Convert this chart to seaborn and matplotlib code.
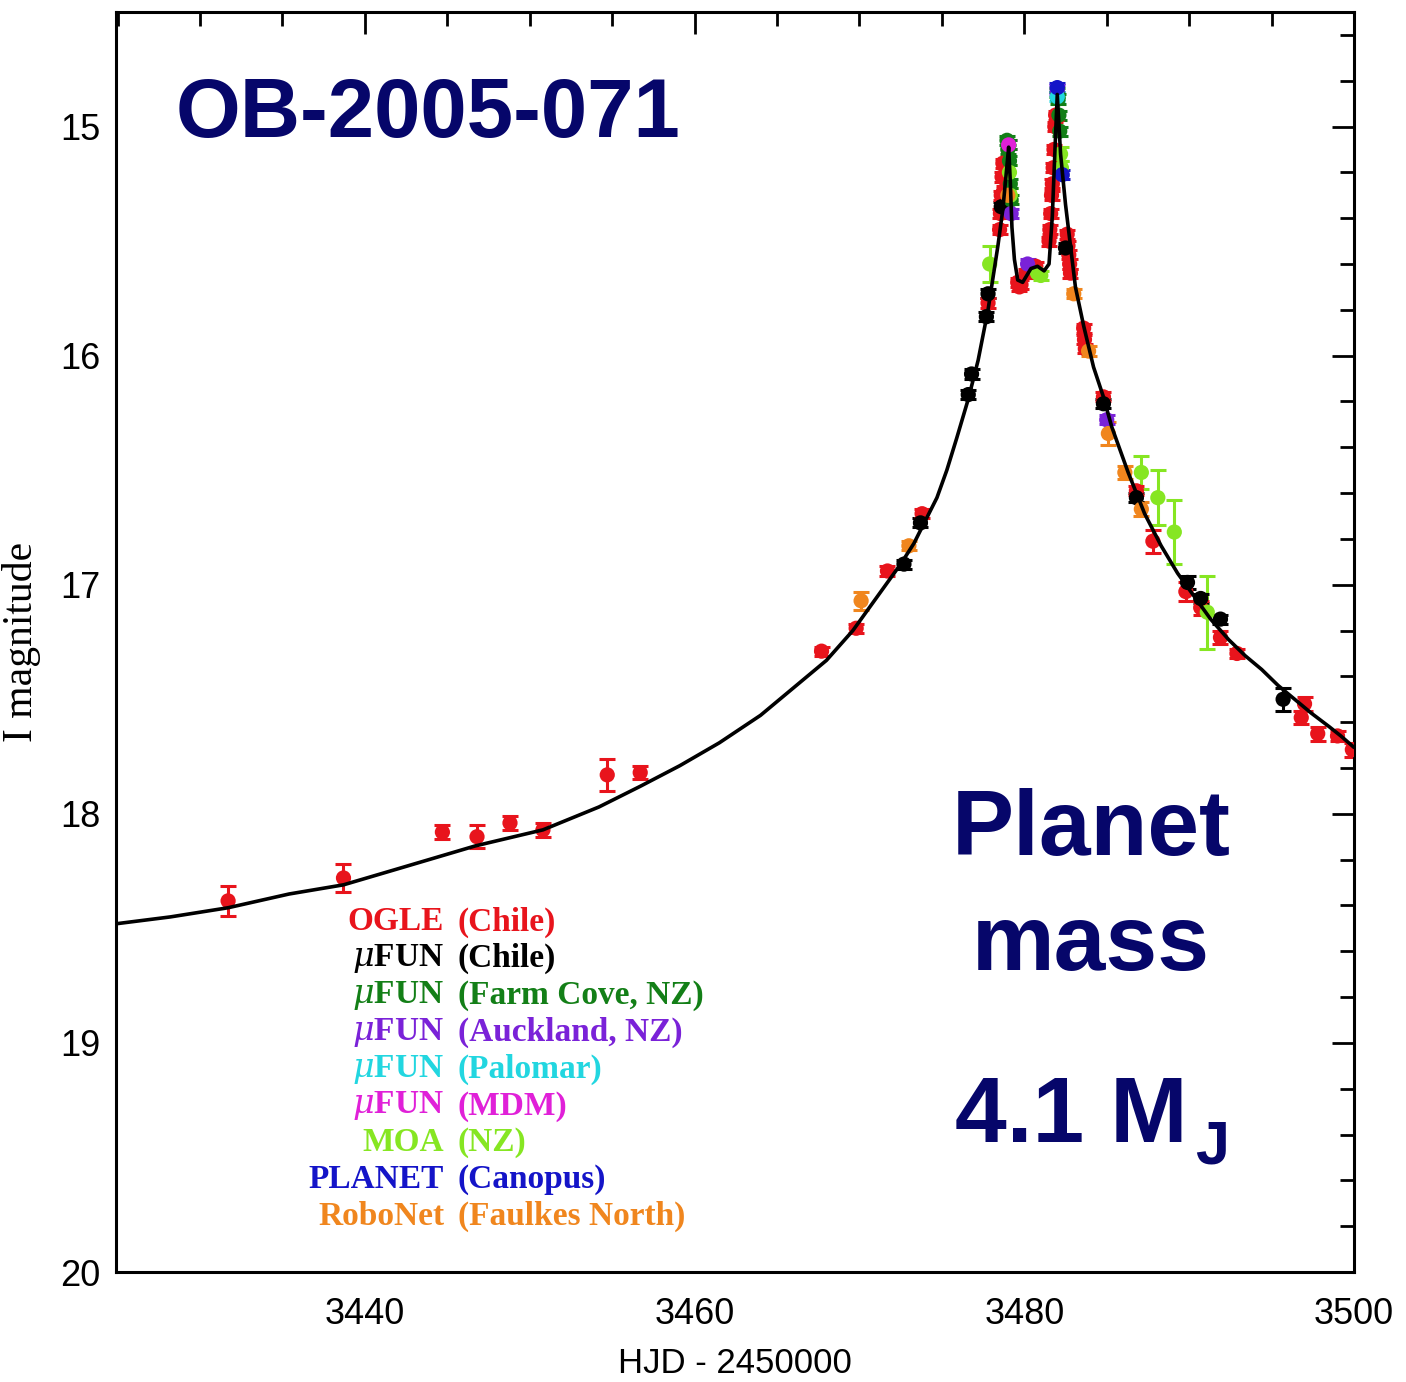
import numpy as np
import pandas as pd
import matplotlib
matplotlib.use("Agg")
import matplotlib.pyplot as plt
from matplotlib.ticker import MultipleLocator
import seaborn as sns

# ---------------- data ----------------
model_t = [3424.9, 3428.2, 3431.7, 3435.4, 3438.7, 3442.0, 3446.7, 3450.8, 3454.2, 3456.7,
           3459.1, 3461.5, 3464.0, 3466.0, 3468.0, 3469.6, 3471.3, 3472.5, 3473.3, 3474.7,
           3475.3, 3475.9, 3476.6, 3477.2, 3477.8, 3478.1, 3478.4, 3478.7, 3479.0, 3479.05,
           3479.15, 3479.25, 3479.4, 3479.6, 3479.9, 3480.4, 3480.8, 3481.2, 3481.5, 3481.7,
           3481.9, 3482.0, 3482.2, 3482.5, 3482.8, 3483.1, 3483.6, 3484.2, 3484.8, 3485.3,
           3486.3, 3487.3, 3488.3, 3489.3, 3490.3, 3491.3, 3492.4, 3493.4, 3494.4, 3495.4,
           3496.4, 3497.4, 3498.5, 3499.2, 3500.0]
model_mag = [18.48, 18.45, 18.41, 18.35, 18.31, 18.24, 18.14, 18.07, 17.97, 17.88,
             17.79, 17.69, 17.57, 17.45, 17.33, 17.20, 17.03, 16.91, 16.82, 16.62,
             16.50, 16.36, 16.19, 16.02, 15.80, 15.66, 15.52, 15.36, 15.13, 15.09,
             15.24, 15.44, 15.58, 15.67, 15.68, 15.62, 15.61, 15.63, 15.60, 15.39,
             15.03, 14.86, 15.12, 15.34, 15.52, 15.70, 15.87, 16.05, 16.18, 16.31,
             16.51, 16.69, 16.83, 16.95, 17.05, 17.15, 17.24, 17.31, 17.37, 17.44,
             17.50, 17.56, 17.62, 17.66, 17.71]

ogle_t = [3431.7, 3438.7, 3444.7, 3446.8, 3448.8, 3450.8, 3454.7, 3456.7, 3467.7,
          3469.8, 3471.7, 3473.8, 3477.8, 3478.5, 3478.55, 3478.6, 3478.65, 3478.7,
          3478.75, 3478.8, 3479.6, 3479.7, 3479.8, 3480.1, 3480.4, 3480.7, 3481.5,
          3481.55, 3481.6, 3481.65, 3481.7, 3481.75, 3481.8, 3481.85, 3481.9, 3482.6,
          3482.65, 3482.7, 3482.75, 3482.8, 3483.6, 3483.65, 3483.7, 3484.8, 3486.8,
          3487.8, 3489.8, 3490.7, 3491.9, 3492.9, 3496.8, 3497.0, 3497.8, 3499.0, 3499.9]
ogle_mag = [18.38, 18.28, 18.08, 18.10, 18.04, 18.07, 17.83, 17.82, 17.29,
            17.19, 16.94, 16.69, 15.77, 15.45, 15.38, 15.30, 15.22, 15.16,
            15.28, 15.35, 15.68, 15.70, 15.69, 15.64, 15.61, 15.61, 15.50,
            15.45, 15.38, 15.30, 15.25, 15.18, 15.10, 15.00, 14.95, 15.47,
            15.52, 15.56, 15.60, 15.64, 15.88, 15.93, 15.97, 16.18, 16.59,
            16.81, 17.03, 17.10, 17.23, 17.30, 17.58, 17.52, 17.65, 17.66, 17.72]
ogle_err = [0.065, 0.06, 0.03, 0.05, 0.03, 0.03, 0.07, 0.03, 0.02,
            0.02, 0.02, 0.02, 0.02, 0.02, 0.02, 0.02, 0.02, 0.02,
            0.02, 0.02, 0.02, 0.02, 0.02, 0.02, 0.02, 0.02, 0.02,
            0.02, 0.02, 0.02, 0.02, 0.02, 0.02, 0.02, 0.02, 0.02,
            0.02, 0.02, 0.02, 0.02, 0.02, 0.02, 0.02, 0.02, 0.02,
            0.05, 0.04, 0.03, 0.03, 0.02, 0.03, 0.03, 0.03, 0.02, 0.03]

fun_chile_t = [3472.7, 3473.7, 3476.6, 3476.8, 3477.7, 3477.8, 3478.6, 3482.5, 3484.8,
               3486.8, 3489.9, 3490.7, 3491.9, 3495.7]
fun_chile_mag = [16.91, 16.73, 16.17, 16.08, 15.83, 15.73, 15.35, 15.53, 16.21,
                 16.62, 16.99, 17.06, 17.15, 17.50]
fun_chile_err = [0.02, 0.02, 0.02, 0.02, 0.02, 0.02, 0.02, 0.02, 0.02,
                 0.02, 0.03, 0.02, 0.02, 0.05]

farm_t = [3478.95, 3479.0, 3479.05, 3479.1, 3479.15, 3479.2, 3482.0, 3482.05, 3482.1, 3482.15]
farm_mag = [15.06, 15.10, 15.08, 15.15, 15.25, 15.32, 14.85, 14.88, 14.95, 15.02]
farm_err = [0.02] * 10

auck_t = [3479.2, 3480.2, 3485.0, 3482.0]
auck_mag = [15.38, 15.60, 16.28, 14.84]
auck_err = [0.02, 0.02, 0.02, 0.02]

palomar_t = [3482.0]
palomar_mag = [14.87]
palomar_err = [0.02]

mdm_t = [3479.05]
mdm_mag = [15.08]
mdm_err = [0.02]

moa_t = [3477.9, 3479.1, 3479.15, 3480.8, 3481.0, 3482.2, 3482.25, 3487.1, 3488.1, 3489.1, 3491.1]
moa_mag = [15.60, 15.20, 15.30, 15.64, 15.65, 15.12, 15.18, 16.51, 16.62, 16.77, 17.12]
moa_err = [0.08, 0.03, 0.03, 0.02, 0.02, 0.03, 0.03, 0.07, 0.12, 0.14, 0.16]

planet_t = [3482.3, 3482.0]
planet_mag = [15.21, 14.83]
planet_err = [0.02, 0.02]

robo_t = [3470.1, 3473.0, 3479.0, 3483.0, 3483.9, 3485.1, 3486.1, 3487.1]
robo_mag = [17.07, 16.83, 15.30, 15.73, 15.98, 16.34, 16.51, 16.67]
robo_err = [0.04, 0.02, 0.02, 0.02, 0.02, 0.05, 0.03, 0.03]

labels_left = ["OGLE", r"$\mu$FUN", r"$\mu$FUN", r"$\mu$FUN", r"$\mu$FUN",
               r"$\mu$FUN", "MOA", "PLANET", "RoboNet"]
labels_right = ["(Chile)", "(Chile)", "(Farm Cove, NZ)", "(Auckland, NZ)", "(Palomar)",
                "(MDM)", "(NZ)", "(Canopus)", "(Faulkes North)"]
colors = ["#e8141c", "#000000", "#137f17", "#7a22d8", "#22d6e0",
          "#e020d8", "#86e622", "#1414c8", "#f0861e"]

x_ticks = [3440, 3460, 3480, 3500]
y_ticks = [15, 16, 17, 18, 19, 20]

# ---------------- build table ----------------
sets = [(ogle_t, ogle_mag, ogle_err), (fun_chile_t, fun_chile_mag, fun_chile_err),
        (farm_t, farm_mag, farm_err), (auck_t, auck_mag, auck_err),
        (palomar_t, palomar_mag, palomar_err), (mdm_t, mdm_mag, mdm_err),
        (moa_t, moa_mag, moa_err), (planet_t, planet_mag, planet_err),
        (robo_t, robo_mag, robo_err)]
names = [l.replace(r"$\mu$", "mu") + " " + r for l, r in zip(labels_left, labels_right)]
rows = []
for name, (t, m, e) in zip(names, sets):
    for a, b, c in zip(t, m, e):
        rows.append((name, a, b, c))
df = pd.DataFrame(rows, columns=["obs", "hjd", "mag", "err"])
model = pd.DataFrame({"hjd": model_t, "mag": model_mag})

# ---------------- plot ----------------
sns.set_style("white")
plt.rcParams["font.family"] = ["Liberation Sans", "DejaVu Sans"]
plt.rcParams["mathtext.fontset"] = "dejavuserif"
plt.rcParams["text.color"] = "black"
plt.rcParams["axes.labelcolor"] = "black"
plt.rcParams["xtick.color"] = "black"
plt.rcParams["ytick.color"] = "black"

fig = plt.figure(figsize=(14.06, 13.82), dpi=100)
ax = fig.add_axes([116 / 1406, 1 - 1272 / 1382, (1354 - 116) / 1406, (1272 - 12) / 1382])

palette = dict(zip(names, colors))
order = names[::-1]
order = [n for n in order if n != names[0]] + [names[0]]
for n in order:
    sub = df[df.obs == n]
    ax.errorbar(sub.hjd, sub.mag, yerr=sub.err, fmt="none", ecolor=palette[n],
                elinewidth=2.2, capsize=6, capthick=2.2, zorder=2)
sns.scatterplot(data=df, x="hjd", y="mag", hue="obs", hue_order=order, palette=palette,
                s=120, edgecolor="none", legend=False, ax=ax, zorder=3)
sns.lineplot(data=model, x="hjd", y="mag", sort=False, color="black", lw=2.6,
             ax=ax, zorder=4)

ax.set_xlim(3424.9, 3500)
ax.set_ylim(20, 14.5)
ax.xaxis.set_major_locator(MultipleLocator(20))
ax.xaxis.set_minor_locator(MultipleLocator(5))
ax.yaxis.set_major_locator(MultipleLocator(1))
ax.yaxis.set_minor_locator(MultipleLocator(0.2))
ax.set_xticks(x_ticks)
ax.set_yticks(y_ticks)
ax.set_xticklabels([str(v) for v in x_ticks])
ax.set_yticklabels([str(v) for v in y_ticks])
ax.tick_params(axis="both", which="both", direction="in", top=True, right=True,
               width=2, colors="black", labelsize=26)
ax.tick_params(which="major", length=16)
ax.tick_params(which="minor", length=10)
ax.tick_params(axis="x", which="major", pad=18)
ax.tick_params(axis="y", which="major", pad=11)
for s in ax.spines.values():
    s.set_linewidth(2.2)
    s.set_color("black")

ax.set_xlabel("HJD - 2450000", fontsize=25)
ax.xaxis.set_label_coords(0.5, -(1347 - 1272) / 1260)
ax.set_ylabel("I magnitude", fontsize=30, family=["Liberation Serif", "DejaVu Serif"])
ax.yaxis.set_label_coords((41 - 116) / 1238, 0.5)

# legend text
y0 = (1272 - 922) / 1260
dy = 36.8 / 1260
for i, (l, r, c) in enumerate(zip(labels_left, labels_right, colors)):
    yy = y0 - i * dy
    ax.text(0.265, yy, l, transform=ax.transAxes, ha="right", va="center",
            fontsize=24, color=c, family=["Liberation Serif", "DejaVu Serif"],
            weight="bold")
    ax.text(0.276, yy, r, transform=ax.transAxes, ha="left", va="center",
            fontsize=24, color=c, family=["Liberation Serif", "DejaVu Serif"],
            weight="bold")

navy = "#06066a"
bold = dict(family=["Liberation Sans", "DejaVu Sans"], weight="bold", color=navy)
ax.text((176 - 116) / 1238, (1272 - 137) / 1260, "OB-2005-071", transform=ax.transAxes,
        ha="left", va="baseline", fontsize=60, **bold)
ax.text((1091 - 116) / 1238, (1272 - 855) / 1260, "Planet", transform=ax.transAxes,
        ha="center", va="baseline", fontsize=67, **bold)
ax.text((1091 - 116) / 1238, (1272 - 970) / 1260, "mass", transform=ax.transAxes,
        ha="center", va="baseline", fontsize=67, **bold)
ax.text((955 - 116) / 1238, (1272 - 1142) / 1260, "4.1 M", transform=ax.transAxes,
        ha="left", va="baseline", fontsize=67, **bold)
ax.text((1195 - 116) / 1238, (1272 - 1163) / 1260, "J", transform=ax.transAxes,
        ha="left", va="baseline", fontsize=44, **bold)

fig.savefig("out.png", dpi=100, facecolor="white")
